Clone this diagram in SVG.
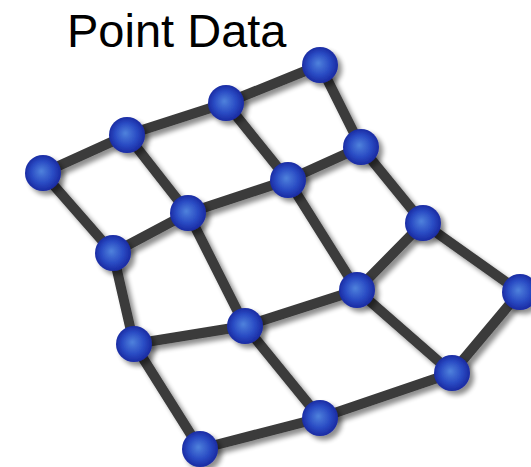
<svg xmlns="http://www.w3.org/2000/svg" width="531" height="467" viewBox="0 0 531 467">
<defs>
<radialGradient id="ball" cx="50%" cy="50%" r="55%" fx="45%" fy="45%">
<stop offset="0" stop-color="#4f82dc"/>
<stop offset="0.55" stop-color="#2a4cc4"/>
<stop offset="1" stop-color="#16229a"/>
</radialGradient>
<filter id="sh" x="-20%" y="-20%" width="150%" height="150%">
<feGaussianBlur in="SourceAlpha" stdDeviation="2.5"/>
<feOffset dx="4" dy="4" result="b"/>
<feComponentTransfer><feFuncA type="linear" slope="0.45"/></feComponentTransfer>
<feMerge><feMergeNode/><feMergeNode in="SourceGraphic"/></feMerge>
</filter>
</defs>
<style>
.e{stroke:#3b3b3b;stroke-width:10;fill:none;stroke-linecap:round}
.n{fill:url(#ball);filter:url(#sh)}
text{font-family:"Liberation Sans",Arial,sans-serif;font-size:47px;fill:#000}
</style>
<rect width="531" height="467" fill="#fff"/>
<text x="67" y="47">Point Data</text>
<g id="connectors" filter="url(#sh)">
<path class="e" d="M43,173L127,135L226,103L320,65"/>
<path class="e" d="M113,253L188,213L288,180L361,147"/>
<path class="e" d="M134,344L245,326L357,290L423,223"/>
<path class="e" d="M423,223L520,292L452,373"/>
<path class="e" d="M200,449L320,418L452,373"/>
<path class="e" d="M43,173L113,253L134,344L200,449"/>
<path class="e" d="M127,135L188,213L245,326L320,418"/>
<path class="e" d="M226,103L288,180L357,290L452,373"/>
<path class="e" d="M320,65L361,147L423,223"/>
</g>
<g id="n1"><circle class="n" cx="320" cy="65" r="18"/></g>
<g id="n2"><circle class="n" cx="226" cy="103" r="18"/></g>
<g id="n3"><circle class="n" cx="127" cy="135" r="18"/></g>
<g id="n4"><circle class="n" cx="43" cy="173" r="18"/></g>
<g id="n5"><circle class="n" cx="361" cy="147" r="18"/></g>
<g id="n6"><circle class="n" cx="288" cy="180" r="18"/></g>
<g id="n7"><circle class="n" cx="188" cy="213" r="18"/></g>
<g id="n8"><circle class="n" cx="113" cy="253" r="18"/></g>
<g id="n9"><circle class="n" cx="423" cy="223" r="18"/></g>
<g id="n10"><circle class="n" cx="357" cy="290" r="18"/></g>
<g id="n11"><circle class="n" cx="520" cy="292" r="18"/></g>
<g id="n12"><circle class="n" cx="245" cy="326" r="18"/></g>
<g id="n13"><circle class="n" cx="134" cy="344" r="18"/></g>
<g id="n14"><circle class="n" cx="452" cy="373" r="18"/></g>
<g id="n15"><circle class="n" cx="320" cy="418" r="18"/></g>
<g id="n16"><circle class="n" cx="200" cy="449" r="18"/></g>
</svg>
